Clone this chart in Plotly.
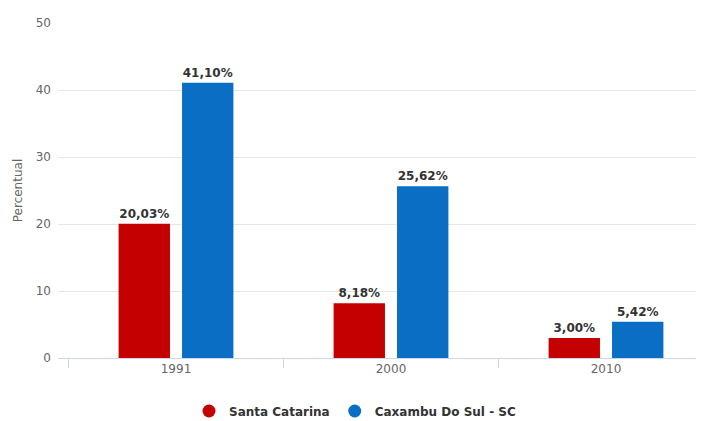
import plotly.graph_objects as go

years = ["1991", "2000", "2010"]
santa_catarina = [20.03, 8.18, 3.00]
caxambu = [41.10, 25.62, 5.42]
series_names = ["Santa Catarina", "Caxambu Do Sul - SC"]
colors = ["#c40000", "#0a6fc4"]

FONT = "DejaVu Sans, Verdana, sans-serif"
# page body has an 8px margin, so the figure is offset by (8, 8) in the window
OFF = 8
W, H = 704 - OFF, 421 - OFF
plot_left, plot_right = 58 - OFF, 704 - OFF
plot_top, plot_bottom = 23 - OFF, 358 - OFF
center0, unit = 176 - OFF, 215
xr = [-(center0 - plot_left) / unit, (plot_right - center0) / unit]
ph = plot_bottom - plot_top

fig = go.Figure()
for name, vals, col in zip(series_names, [santa_catarina, caxambu], colors):
    fig.add_trace(go.Bar(
        x=years, y=vals, name=name, marker=dict(color=col, line=dict(width=0)),
        texttemplate="<b>%{y:.2f}%</b>", textposition="outside",
        textfont=dict(family=FONT, size=12, color="#333333"),
        cliponaxis=False, showlegend=False, hoverinfo="skip",
    ))
for name, col in zip(series_names, colors):
    fig.add_trace(go.Scatter(
        x=[None], y=[None], mode="markers", name="<b>" + name + "</b>",
        marker=dict(symbol="circle", size=13, color=col),
    ))

fig.update_layout(
    width=W, height=H,
    margin=dict(l=plot_left, r=W - plot_right, t=plot_top, b=H - plot_bottom, autoexpand=False),
    paper_bgcolor="white", plot_bgcolor="white",
    separators=",.",
    barmode="group", bargap=0.41, bargroupgap=0.19,
    font=dict(family=FONT, color="#666666", size=12),
    legend=dict(orientation="h", x=(355 - OFF - plot_left) / (plot_right - plot_left), xanchor="center",
                y=-(411 - OFF - plot_bottom) / ph, yanchor="middle",
                font=dict(size=12, color="#333333", family=FONT),
                itemwidth=30, tracegroupgap=0),
    xaxis=dict(type="category", range=xr, showgrid=False, showline=True, linecolor="#ccd6eb",
               linewidth=1, ticks="outside", tickson="boundaries", ticklen=9, tickcolor="#ccd6eb",
               tickfont=dict(size=12, color="#666666"), automargin=False),
    yaxis=dict(range=[0, 50], dtick=10, showgrid=True, gridcolor="#e6e6e6", zeroline=False,
               showline=False, ticks="", ticklabelstandoff=6, automargin=False,
               tickfont=dict(size=12, color="#666666"),
               title=dict(text="Percentual", font=dict(size=12, color="#666666"), standoff=10)),
)
fig.write_html("out.html")
